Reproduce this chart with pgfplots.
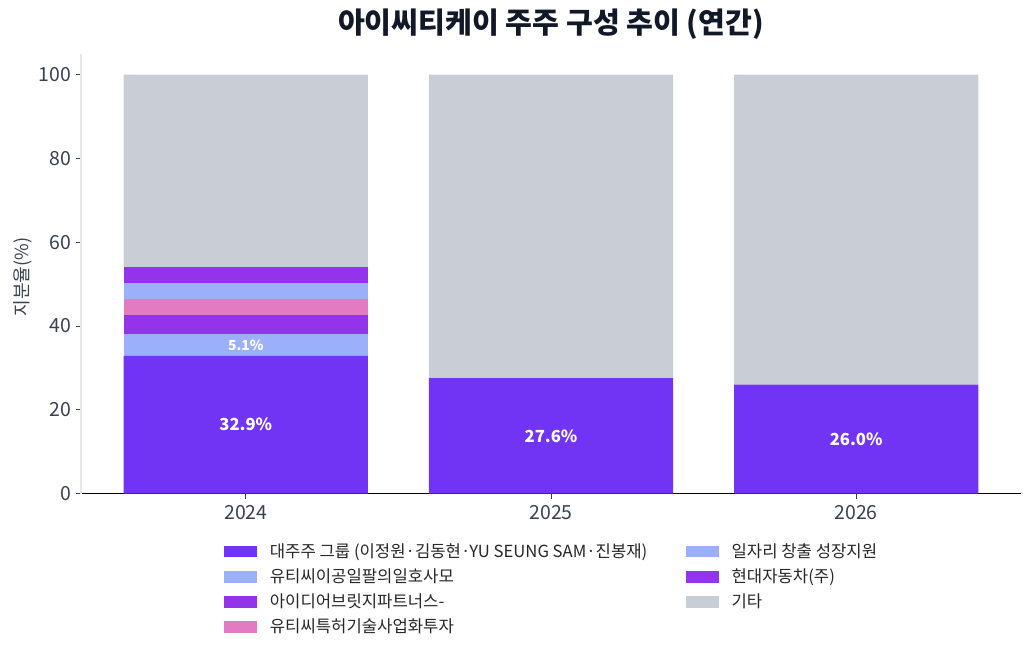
\documentclass[border=0pt]{standalone}
\usepackage{fontspec}
\setmainfont{Noto Sans CJK KR}
\usepackage{pgfplots}
\pgfplotsset{compat=1.18}

\definecolor{cViolet}{HTML}{7133F4}
\definecolor{cPurple}{HTML}{9333EA}
\definecolor{cBlue}{HTML}{9CB0FA}
\definecolor{cPink}{HTML}{E37BC2}
\definecolor{cGray}{HTML}{C9CDD6}
\definecolor{cText}{HTML}{374151}
\definecolor{cTitle}{HTML}{111827}
\definecolor{cSpine}{HTML}{E5E7EB}

\begin{document}
\begin{tikzpicture}
% 1 px of the reference = 0.72pt
\begin{axis}[
    at={(0,-1.2pt)}, anchor=south west,
    scale only axis,
    width=676.8pt, height=316.8pt,
    ybar stacked,
    bar width=0.8,
    xmin=-0.54, xmax=2.54,
    ymin=0, ymax=105,
    xtick={0,1,2},
    xticklabels={2024,2025,2026},
    ytick={0,20,40,60,80,100},
    axis x line*=bottom,
    axis y line*=left,
    x axis line style={black, line width=0.9pt},
    y axis line style={cSpine, line width=0.8pt},
    tick align=outside,
    major tick length=3.6pt,
    tick style={cText, line width=0.7pt},
    ticklabel style={font=\fontsize{14}{16}\selectfont, text=cText},
    xticklabel style={yshift=-1.5pt},
    /pgf/number format/assume math mode=true,
    legend columns=2,
    legend cell align=left,
    legend image code/.code={\fill[#1] (0pt,-4.2pt) rectangle (24pt,4.2pt);},
    legend style={
        at={(99.6pt,-31.8pt)}, anchor=north west,
        draw=none, fill=none,
        font=\fontsize{12}{14}\selectfont,
        text=black!85,
        row sep=2.6pt,
        /tikz/every odd column/.append style={column sep=7.2pt},
        /tikz/every even column/.append style={column sep=25.5pt},
    },
]
% stacking order from the bottom
\addplot[fill=cViolet, draw=none, forget plot] coordinates {(0,32.9) (1,27.6) (2,26.0)};
\addplot[fill=cBlue,   draw=none, forget plot] coordinates {(0,5.1) (1,0) (2,0)};
\addplot[fill=cPurple, draw=none, forget plot] coordinates {(0,4.7) (1,0) (2,0)};
\addplot[fill=cPink,   draw=none, forget plot] coordinates {(0,3.8) (1,0) (2,0)};
\addplot[fill=cBlue,   draw=none, forget plot] coordinates {(0,3.8) (1,0) (2,0)};
\addplot[fill=cPurple, draw=none, forget plot] coordinates {(0,3.8) (1,0) (2,0)};
\addplot[fill=cGray,   draw=none, forget plot] coordinates {(0,45.9) (1,72.4) (2,74.0)};

% legend, row by row
\addlegendimage{fill=cViolet, draw=none}
\addlegendentry{대주주 그룹 (이정원·김동현·YU SEUNG SAM·진봉재)}
\addlegendimage{fill=cBlue, draw=none}
\addlegendentry{일자리 창출 성장지원}
\addlegendimage{fill=cBlue, draw=none}
\addlegendentry{유티씨이공일팔의일호사모}
\addlegendimage{fill=cPurple, draw=none}
\addlegendentry{현대자동차(주)}
\addlegendimage{fill=cPurple, draw=none}
\addlegendentry{아이디어브릿지파트너스-}
\addlegendimage{fill=cGray, draw=none}
\addlegendentry{기타}
\addlegendimage{fill=cPink, draw=none}
\addlegendentry{유티씨특허기술사업화투자}

% label positions, the labels are set after the axis so they sit on top
\coordinate (lA) at (axis cs:0,16.45);
\coordinate (lB) at (axis cs:0,35.45);
\coordinate (lC) at (axis cs:1,13.8);
\coordinate (lD) at (axis cs:2,13.0);
\end{axis}
\node[text=white, font=\bfseries\fontsize{12}{14}\selectfont] at (lA) {32.9\%};
\node[text=white, font=\bfseries\fontsize{10}{12}\selectfont] at (lB) {5.1\%};
\node[text=white, font=\bfseries\fontsize{12}{14}\selectfont] at (lC) {27.6\%};
\node[text=white, font=\bfseries\fontsize{12}{14}\selectfont] at (lD) {26.0\%};
\node[text=cTitle, font=\bfseries\fontsize{21}{24}\selectfont] at (338.4pt,336.96pt) {아이씨티케이 주주 구성 추이 (연간)};
\node[text=cText, rotate=90, font=\fontsize{13}{15}\selectfont] at (-41.8pt,154.8pt) {지분율(\%)};
\pgfresetboundingbox
\path[use as bounding box] (-58.32pt,-115.92pt) rectangle (683.28pt,354.24pt);
\end{tikzpicture}
\end{document}
